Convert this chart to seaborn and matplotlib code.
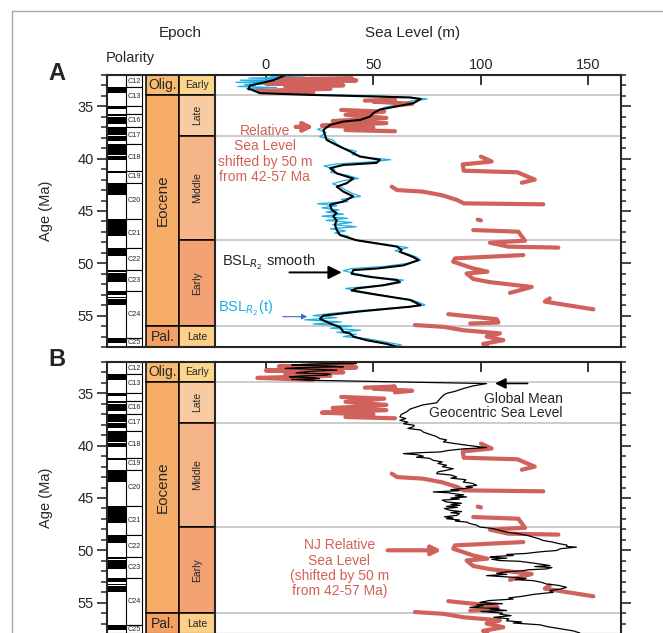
import pandas as pd
import seaborn as sns
import matplotlib.pyplot as plt
from matplotlib.ticker import MultipleLocator
from matplotlib.lines import Line2D

# ---------------- data ----------------
# BSL_R2 smooth (panel A, black)
smooth_age = [31.9, 32.5, 32.8, 33.0, 33.36, 33.4, 33.74, 33.9, 34.06, 34.15, 34.3, 34.7, 35.0, 35.3,
              35.65, 35.97, 36.3, 36.45, 36.77, 37.25, 37.7, 38.2, 38.7, 39.3, 39.8, 40.1, 40.4, 40.6,
              40.9, 41.4, 41.9, 42.35, 42.67, 43.15, 43.6, 44.1, 44.4, 44.9, 45.2, 45.5, 45.9, 46.3,
              46.8, 47.3, 47.8, 48.1, 48.4, 48.7, 48.9, 49.4, 49.7, 50.2, 50.5, 50.65, 51.0, 51.3,
              51.6, 51.8, 52.1, 52.4, 52.6, 53.0, 53.5, 54.0, 54.15, 54.6, 55.0, 55.3, 55.75, 56.1,
              56.55, 56.7, 57.0, 57.35, 57.7, 58.0]
smooth_sl = [10.4, 3.4, -2.8, -7.4, -8.2, -6.7, -2.8, 20.5, 51.5, 67, 72, 68.5, 60.8, 53,
             49.9, 48.4, 43.7, 36, 29.8, 26.7, 27.4, 28.2, 32.9, 39.1, 43.7, 53, 51.5, 36,
             29.8, 32.9, 40.6, 37.5, 32.9, 36, 40.6, 36, 29.8, 30.6, 32.9, 31.3, 32.9, 32.1,
             32.9, 34.4, 42.2, 51.5, 60.8, 63.1, 62.3, 68.5, 70.9, 63.9, 51.5, 40.6, 39.8, 48.4,
             60.8, 62.3, 54.6, 42.2, 39.8, 51.5, 67, 72, 67, 43.7, 26.7, 25.1, 29.8, 34.4,
             36, 39.1, 40.6, 46.8, 56.1, 61.5]

# BSL_R2(t) (panel A, blue)
bsl_age = [32.0, 32.1, 32.2, 32.3, 32.4, 32.5, 32.6, 32.7, 32.8, 32.9, 33.0, 33.1, 33.2, 33.3, 33.4,
           33.5, 33.7, 33.85, 34.0, 34.15, 34.3, 34.5, 34.8, 35.1, 35.4, 35.7, 36.0, 36.3, 36.6,
           36.9, 37.2, 37.5, 37.9, 38.2, 38.6, 39.0, 39.3, 39.6, 39.9, 40.1, 40.3, 40.5, 40.7,
           41.0, 41.3, 41.6, 41.9, 42.1, 42.4, 42.7, 43.0, 43.3, 43.6, 43.9, 44.1, 44.3, 44.5,
           44.7, 44.9, 45.1, 45.3, 45.5, 45.7, 45.9, 46.1, 46.3, 46.5, 46.7, 46.9, 47.1, 47.4,
           47.7, 47.9, 48.2, 48.5, 48.8, 49.1, 49.4, 49.7, 50.0, 50.3, 50.5, 50.7, 51.0, 51.3,
           51.6, 51.8, 52.1, 52.4, 52.6, 52.9, 53.2, 53.5, 53.8, 54.0, 54.2, 54.5, 54.8, 55.0,
           55.2, 55.4, 55.6, 55.8, 56.0, 56.2, 56.4, 56.6, 56.8, 57.0, 57.2, 57.5, 57.8, 58.0]
bsl_sl = [12, 2, 18, -8, 20, -12, 8, -14, 15, -10, -5, -13, 5, -9, 2,
          -6, 3, 20, 50, 68, 75, 67, 62, 55, 52, 48, 46, 40, 31,
          28, 24, 28, 25, 31, 33, 36, 42, 40, 48, 58, 49, 33, 27,
          32, 30, 38, 43, 36, 31, 35, 37, 40, 44, 35, 38, 24, 33,
          26, 34, 28, 36, 26, 38, 28, 40, 31, 42, 30, 37, 32, 38,
          40, 46, 56, 66, 60, 66, 70, 72, 66, 55, 40, 36, 42, 50,
          64, 60, 54, 37, 42, 50, 58, 68, 72, 74, 63, 45, 30, 22,
          33, 18, 35, 22, 40, 30, 44, 33, 42, 36, 47, 55, 63, 60]

# NJ relative sea level (red, both panels), one id per drawn piece
red_seg = [1] * 10 + [2] * 5 + [3] * 10 + [4] * 7 + [5] * 7 + [6] * 2 + [7] * 6 + [8] * 10 + [9] * 3 + [10] * 4 + [11] * 8
red_age = [32.30, 32.42, 32.52, 32.72, 32.82, 32.98, 33.15, 33.32, 33.52, 33.70,
           34.45, 34.35, 34.55, 34.75, 34.9,
           35.34, 35.5, 35.8, 36.1, 36.4, 36.6, 36.84, 37.03, 37.26, 37.38,
           39.8, 40.27, 40.55, 41.15, 41.3, 42.0, 42.3,
           42.67, 43.0, 43.15, 43.5, 43.95, 44.27, 44.36,
           45.82, 45.9,
           46.82, 46.98, 47.84, 48.03, 48.41, 48.5,
           49.21, 49.53, 49.85, 50.49, 50.8, 50.97, 51.5, 51.8, 52.26, 52.83,
           53.35, 53.66, 54.4,
           54.86, 55.34, 55.66, 55.76,
           55.9, 56.07, 56.4, 56.7, 57.0, 57.35, 57.7, 57.95]
red_sl = [40, 6, 42, 14, 0, 36, 9, 30, -4, 22,
          46, 60, 50, 68, 60,
          35, 55, 37, 56, 31, 56, 26, 50, 37, 60,
          100, 105, 91.5, 92, 117, 125, 119,
          58.5, 61, 73, 82, 89, 92, 129,
          98.5, 100,
          96.4, 117.4, 120.5, 104.2, 112.7, 136,
          119.7, 87.9, 87.1, 96.4, 103, 93.3, 96.4, 104.2, 123.6, 113.5,
          132, 129.7, 152.3,
          84.8, 107.3, 108.1, 95,
          69.3, 82.5, 91.8, 108.8, 102.6, 110.4, 101, 103]

# Global mean geocentric sea level (panel B, black)
gmsl_age = [32.05, 32.1, 32.15, 32.22, 32.3, 32.38, 32.46, 32.54, 32.62, 32.7, 32.78, 32.9, 33.04,
            33.15, 33.26, 33.34, 33.42, 33.5, 33.58, 33.66, 33.74, 34.06, 34.3, 34.54, 34.8, 35.0,
            35.18, 35.5, 35.9, 36.1, 36.29, 36.5, 36.77, 37.0, 37.25, 37.4, 37.57, 37.75, 37.9,
            38.05, 38.2, 38.35, 38.5, 38.7, 38.9, 39.1, 39.32, 39.45, 39.63, 39.8, 39.95, 40.1,
            40.18, 40.3, 40.45, 40.6, 40.68, 40.76, 40.85, 41.0, 41.1, 41.2, 41.4, 41.55, 41.7,
            41.87, 42.0, 42.2, 42.35, 42.5, 42.67, 42.8, 42.99, 43.1, 43.25, 43.47, 43.6, 43.79,
            43.9, 44.0, 44.1, 44.2, 44.3, 44.42, 44.5, 44.58, 44.7, 44.8, 44.9, 45.0, 45.1, 45.2,
            45.38, 45.5, 45.6, 45.7, 45.8, 45.9, 46.0, 46.18, 46.3, 46.4, 46.5, 46.66, 46.8, 46.9,
            46.98, 47.1, 47.2, 47.3, 47.45, 47.6, 47.78, 47.9, 48.05, 48.26, 48.4, 48.6, 48.74,
            48.9, 49.06, 49.2, 49.35, 49.5, 49.63, 49.7, 49.85, 50.02, 50.1, 50.18, 50.3, 50.4,
            50.5, 50.58, 50.66, 50.75, 50.85, 50.98, 51.05, 51.14, 51.3, 51.46, 51.55, 51.65,
            51.78, 51.86, 51.94, 52.05, 52.2, 52.3, 52.42, 52.5, 52.58, 52.7, 52.8, 52.9, 53.05,
            53.22, 53.35, 53.54, 53.7, 53.85, 54.02, 54.2, 54.4, 54.55, 54.66, 54.8, 54.98, 55.1,
            55.2, 55.3, 55.46, 55.55, 55.62, 55.75, 55.85, 56.0, 56.1, 56.25, 56.4, 56.55, 56.74,
            56.85, 56.95, 57.12, 57.3, 57.5, 57.7, 57.9]
gmsl_sl = [20, 35, 42, 18, 12, 30, 36, 15, 9, 25, 33, 20, 14,
           30, 28, 16, 11, 22, 25, 12, 19, 102.6, 96, 91.8, 88, 84,
           82.5, 81, 79.4, 73, 70.1, 67, 65.4, 63, 62.3, 65, 62.3, 66, 64,
           69, 68.5, 66, 72, 73.2, 76, 79, 80.9, 84, 82.5, 88, 93.3, 99,
           102.6, 92, 85, 80.9, 70, 63.9, 70, 73.2, 70, 76, 77.8, 82, 80,
           84, 82, 87.1, 84, 80, 79.4, 86, 88.7, 86, 93, 91.8, 96, 98,
           93, 96, 91.8, 86, 90, 77.8, 85, 87.1, 92, 88, 93.3, 86, 90, 82,
           84, 91, 86, 90.2, 84, 89, 83, 85.6, 91, 86, 90, 88.7, 83, 87,
           84, 90, 88, 93.3, 95, 98, 99.5, 105, 108, 111.9, 117, 122, 124.3,
           127, 128.9, 133, 136, 140, 139.8, 144.4, 137, 135.1, 130, 125.9, 121, 112,
           115, 107, 104.2, 112, 105, 108.8, 118, 121.2, 127, 132.1, 125, 133,
           130.5, 122, 119.7, 112, 107.3, 112, 102.6, 109, 115, 121, 116, 124.3, 128,
           130.5, 136, 139.8, 137, 132, 133.6, 125, 119, 113, 115, 104, 99.5, 110,
           98, 101, 94.9, 108, 104.2, 112, 100, 110, 108.8, 114, 106, 113, 111.9,
           119, 115, 127.4, 131, 137, 142.9, 146]

# timescale
epoch_names = ['Olig.', 'Eocene', 'Pal.']
epoch_top = [32.0, 33.9, 56.0]
epoch_base = [33.9, 56.0, 58.0]
sub_names = ['Early', 'Late', 'Middle', 'Early', 'Late']
sub_top = [32.0, 33.9, 37.8, 47.8, 56.0]
sub_base = [33.9, 37.8, 47.8, 56.0, 58.0]
boundaries = [33.9, 37.8, 47.8, 56.0]
chron_names = ['C12', 'C13', '', 'C16', 'C17', 'C18', 'C19', 'C20', 'C21', 'C22', 'C23', 'C24', 'C25']
chron_top = [32.0, 33.157, 34.999, 35.706, 36.969, 38.615, 41.154, 42.301, 45.724, 48.566, 50.628, 52.620, 57.101]
chron_base = chron_top[1:] + [58.0]
normal_top = [33.157, 34.999, 35.706, 36.051, 36.969, 37.872, 38.159, 38.615, 39.698, 41.154, 42.301,
              45.724, 48.566, 50.628, 50.961, 52.620, 53.199, 53.416, 57.101]
normal_base = [33.705, 35.294, 35.892, 36.700, 37.753, 38.093, 38.333, 39.627, 40.145, 41.390, 43.432,
               47.349, 49.344, 50.835, 51.833, 53.074, 53.274, 53.983, 57.656]

smooth = pd.DataFrame({'age': smooth_age, 'sl': smooth_sl})
bsl = pd.DataFrame({'age': bsl_age, 'sl': bsl_sl})
red = pd.DataFrame({'seg': red_seg, 'age': red_age, 'sl': red_sl})
gmsl = pd.DataFrame({'age': gmsl_age, 'sl': gmsl_sl})

RED = '#D0625B'
BLUE = '#1CB0E6'
epoch_colors = ['#F9BA72', '#F6AD67', '#F3A062']
sub_colors = ['#FDD68E', '#FACBA0', '#F6B589', '#F3A274', '#FDD08A']

sns.set_style('white')
plt.rcParams['font.family'] = ['Liberation Sans', 'DejaVu Sans']

W, H = 663, 633
fig = plt.figure(figsize=(W / 100, H / 100), dpi=100)


def box(left, top, right, bottom):
    return [left / W, 1 - bottom / H, (right - left) / W, (bottom - top) / H]


def mids(tops, bases):
    return [(t + b) / 2 for t, b in zip(tops, bases)], [b - t for t, b in zip(tops, bases)]


def draw_panel(top, letter, panel_a):
    bottom = top + 272
    # timescale columns
    ax_c = fig.add_axes(box(107, top, 215, bottom))
    ax_c.set_xlim(107, 215)
    ax_c.set_ylim(58, 32)
    y, h = mids(normal_top, normal_base)
    ax_c.barh(y, 18.7, height=h, left=107, color='black', linewidth=0)
    y, h = mids(chron_top, chron_base)
    ax_c.barh(y, 16.5, height=h, left=125.7, facecolor='white', edgecolor='black', linewidth=0.8)
    for yy, name in zip(y, chron_names):
        ax_c.text(134, yy, name, ha='center', va='center', fontsize=5.2)
    y, h = mids(epoch_top, epoch_base)
    ax_c.barh(y, 33.8, height=h, left=145.5, color=epoch_colors, edgecolor='black', linewidth=1.1)
    for yy, name in zip(y, epoch_names):
        if name == 'Eocene':
            ax_c.text(162.4, 44.0, name, ha='center', va='center', fontsize=11, rotation=90)
        else:
            ax_c.text(162.4, yy, name, ha='center', va='center', fontsize=10)
    y, h = mids(sub_top, sub_base)
    ax_c.barh(y, 35.7, height=h, left=179.3, color=sub_colors, edgecolor='black', linewidth=1.1)
    for i, (yy, name) in enumerate(zip(y, sub_names)):
        rot = 90 if 0 < i < 4 else 0
        ax_c.text(197.2, yy, name, ha='center', va='center', fontsize=7.5, rotation=rot)
    ax_c.set_xticks([])
    ax_c.yaxis.set_major_locator(MultipleLocator(5))
    ax_c.yaxis.set_minor_locator(MultipleLocator(1))
    ax_c.tick_params(axis='y', which='major', direction='out', length=7.5, width=1.2,
                     labelsize=10.5, pad=2, left=True)
    ax_c.tick_params(axis='y', which='minor', direction='out', length=4.5, width=1.1, left=True)
    ax_c.set_ylabel('Age (Ma)', fontsize=10.5)
    ax_c.yaxis.set_label_coords(-0.5, 0.5)
    ax_c.spines['right'].set_visible(False)
    for s in ['left', 'top', 'bottom']:
        ax_c.spines[s].set_linewidth(1.5)

    # main sea-level axes
    ax = fig.add_axes(box(215, top, 620.7, bottom))
    for b in boundaries:
        ax.axhline(b, color='#C4C4C4', lw=1.2, zorder=0)
    if panel_a:
        sns.lineplot(data=bsl, x='sl', y='age', orient='y', sort=False, estimator=None,
                     color=BLUE, lw=0.9, ax=ax)
        sns.lineplot(data=red, x='sl', y='age', units='seg', orient='y', sort=False, estimator=None,
                     color=RED, lw=3.0, solid_capstyle='round', solid_joinstyle='round', ax=ax)
        sns.lineplot(data=smooth, x='sl', y='age', orient='y', sort=False, estimator=None,
                     color='black', lw=1.5, ax=ax)
    else:
        sns.lineplot(data=red, x='sl', y='age', units='seg', orient='y', sort=False, estimator=None,
                     color=RED, lw=3.0, solid_capstyle='round', solid_joinstyle='round', ax=ax)
        sns.lineplot(data=gmsl, x='sl', y='age', orient='y', sort=False, estimator=None,
                     color='black', lw=0.9, ax=ax)
    ax.set_xlim(-23.7, 165)
    ax.set_ylim(58, 32)
    ax.set_xlabel('')
    ax.set_ylabel('')
    ax.set_xticks([0, 50, 100, 150])
    ax.xaxis.set_ticks_position('top')
    ax.tick_params(axis='x', direction='in', length=7, width=1.3, labelsize=10.5, pad=2,
                   labeltop=panel_a, top=True, bottom=False)
    ax.yaxis.set_ticks_position('right')
    ax.yaxis.set_major_locator(MultipleLocator(5))
    ax.yaxis.set_minor_locator(MultipleLocator(1))
    ax.tick_params(axis='y', which='major', direction='out', length=7, width=1.2, labelright=False)
    ax.tick_params(axis='y', which='minor', direction='out', length=3.5, width=1.1)
    for s in ax.spines.values():
        s.set_linewidth(1.5)

    fig.text(57 / W, 1 - (top - 2) / H, letter, fontsize=17, fontweight='bold', ha='center', va='center')

    if panel_a:
        ax.text(-0.5, 39.55, 'Relative\nSea Level\nshifted by 50 m\nfrom 42-57 Ma', color=RED,
                fontsize=10, ha='center', va='center', linespacing=1.12)
        ax.annotate('', xy=(23.5, 36.96), xytext=(12.5, 36.96),
                    arrowprops=dict(arrowstyle='-|>', color=RED, lw=3, mutation_scale=14))
        ax.text(-20.5, 49.85, r'BSL$_{R_2}$ smooth', fontsize=10.5, ha='left', va='center')
        ax.annotate('', xy=(36.5, 50.87), xytext=(9.6, 50.87),
                    arrowprops=dict(arrowstyle='-|>', color='black', lw=1.4, mutation_scale=20))
        ax.text(-22.3, 54.28, r'BSL$_{R_2}$(t)', color=BLUE, fontsize=10.5, ha='left', va='center')
        ax.annotate('', xy=(20.5, 55.1), xytext=(6.5, 55.1),
                    arrowprops=dict(arrowstyle='-|>', color='#3A6EC8', lw=0.8, mutation_scale=8))
    else:
        ax.text(138, 36.2, 'Global Mean\nGeocentric Sea Level', fontsize=10, ha='right', va='center',
                multialignment='right', linespacing=1.05)
        ax.annotate('', xy=(105.3, 34.05), xytext=(123, 34.05),
                    arrowprops=dict(arrowstyle='-|>', color='black', lw=1.2, mutation_scale=16))
        ax.text(34.1, 51.73, 'NJ Relative\nSea Level\n(shifted by 50 m\nfrom 42-57 Ma)', color=RED,
                fontsize=10, ha='center', va='center', linespacing=1.12)
        ax.annotate('', xy=(83, 50.0), xytext=(55.3, 50.0),
                    arrowprops=dict(arrowstyle='-|>', color=RED, lw=3, mutation_scale=14))


draw_panel(75, 'A', True)
draw_panel(362, 'B', False)

fig.text(180 / W, 1 - 33 / H, 'Epoch', fontsize=11, ha='center', va='center')
fig.text(413 / W, 1 - 33 / H, 'Sea Level (m)', fontsize=11, ha='center', va='center')
fig.text(130 / W, 1 - 58 / H, 'Polarity', fontsize=10.5, ha='center', va='center')

# thin grey frame around the figure
fig.add_artist(Line2D([12 / W, 1.0], [1 - 10.5 / H, 1 - 10.5 / H], color='#A8A8A8', lw=1))
fig.add_artist(Line2D([12 / W, 12 / W], [0.0, 1 - 10.5 / H], color='#A8A8A8', lw=1))

fig.savefig('out.png', dpi=100)
